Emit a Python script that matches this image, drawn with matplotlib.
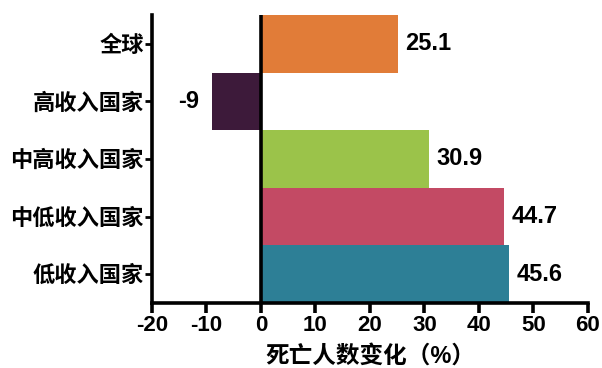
import matplotlib
matplotlib.use("Agg")
import matplotlib.pyplot as plt
import numpy as np

plt.rcParams["font.family"] = ["Liberation Sans", "Noto Sans CJK SC"]
plt.rcParams["font.weight"] = "bold"

# Data
categories = ["全球", "高收入国家", "中高收入国家", "中低收入国家", "低收入国家"]
values = [25.1, -9, 30.9, 44.7, 45.6]
value_labels = ["25.1", "-9", "30.9", "44.7", "45.6"]
colors = ["#E17C38", "#3D1A3A", "#9BC34A", "#C34A64", "#2D7F96"]
x_ticks = [-20, -10, 0, 10, 20, 30, 40, 50, 60]
x_label = "死亡人数变化（%）"

fig = plt.figure(figsize=(6.02, 3.68), dpi=100)
ax = fig.add_axes([0.2525, 0.177, 0.724, 0.782])

y = np.arange(len(categories))
ax.barh(y, values, height=1.0, color=colors, edgecolor="none")

# Zero line
ax.axvline(0, color="black", lw=2.6, zorder=3)

# Value labels
for yi, v, lab in zip(y, values, value_labels):
    if v >= 0:
        ax.text(v + 1.3, yi, lab, ha="left", va="center",
                fontsize=17, fontweight="bold")
    else:
        ax.text(v - 2.4, yi, lab, ha="right", va="center",
                fontsize=17, fontweight="bold")

ax.set_xlim(-20, 60)
ax.set_ylim(len(categories) - 0.5, -0.5)
ax.set_xticks(x_ticks)
ax.set_xticklabels([str(t) for t in x_ticks])
ax.set_yticks(y)
ax.set_yticklabels(categories)

for lab in ax.get_xticklabels():
    lab.set_fontsize(16)
    lab.set_fontweight("bold")
for lab in ax.get_yticklabels():
    lab.set_fontsize(16)
    lab.set_fontweight("bold")

ax.set_xlabel(x_label, fontsize=17, fontweight="bold", labelpad=6)

for side in ["top", "right"]:
    ax.spines[side].set_visible(False)
for side in ["left", "bottom"]:
    ax.spines[side].set_linewidth(2.6)
ax.tick_params(axis="x", direction="out", length=7, width=2.6, pad=2)
ax.tick_params(axis="y", direction="out", length=5, width=2.0, pad=1)

fig.savefig("out.png", dpi=100)
